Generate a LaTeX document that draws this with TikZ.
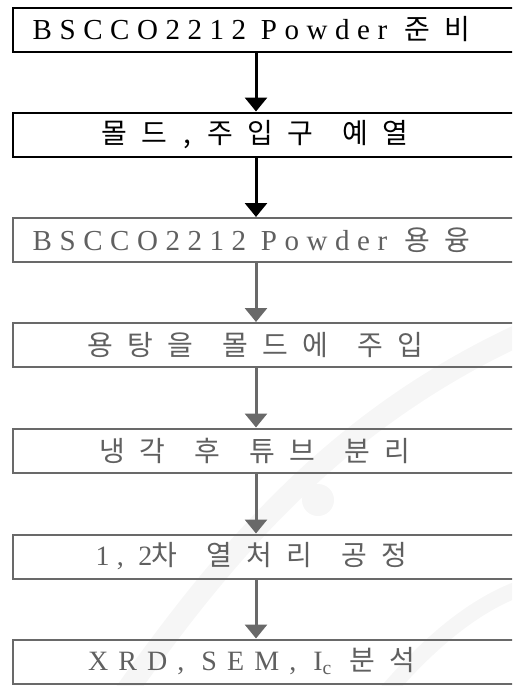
\documentclass[tikz,border=0pt]{standalone}
\usepackage{fontspec}
\setmainfont{Liberation Serif}[LetterSpace=26]
\newfontfamily\kr{Noto Sans CJK KR}
\newlength{\kstep}\setlength{\kstep}{40pt}
\makeatletter
\newcommand{\KW}[1]{{\kr\fontsize{28}{30}\selectfont\@tfor\kch:=#1\do{\makebox[\kstep][c]{\kch}}}}
\makeatother
\newcommand{\W}{\hspace{15pt}}
\usetikzlibrary{arrows.meta}
\definecolor{txtgray}{RGB}{96,96,96}
\definecolor{linegray}{RGB}{105,105,105}
\definecolor{wm}{RGB}{246,246,246}
\begin{document}
\begin{tikzpicture}[x=1pt,y=-1pt,
  stepbox/.style={line width=2pt, minimum width=507pt, minimum height=44pt,
    inner sep=0pt, font=\fontsize{29}{31}\selectfont,
    execute at end node={\hspace{23pt}}},
  blackbox/.style={stepbox, draw=black, text=black},
  graybox/.style={stepbox, draw=linegray, text=txtgray},
  flow/.style={line width=3pt, -{Triangle[width=22pt,length=14pt]}},
]
\useasboundingbox (0,0) rectangle (512,686);
\clip (0,0) rectangle (512,686);
% faint watermark
\draw[wm, line width=22pt, line cap=round] (120,700) .. controls (220,560) and (330,420) .. (530,330);
\draw[wm, line width=16pt] (380,700) .. controls (430,640) and (480,600) .. (530,585);
\fill[wm] (318,500) circle (16pt);

\node[blackbox] (b1) at (266.5,29.5) {BSCCO2212 Powder\hspace{10pt}\KW{준비}};
\node[blackbox] (b2) at (266.5,134.5) {\KW{몰드}\makebox[26pt]{\kr\fontsize{28}{30}\selectfont ,}\KW{주입구}\W\KW{예열}};
\node[graybox] (b3) at (266.5,240) {BSCCO2212 Powder\hspace{10pt}\KW{용융}};
\node[graybox] (b4) at (266.5,345) {\KW{용탕을}\W\KW{몰드에}\W\KW{주입}};
\node[graybox] (b5) at (266.5,450.5) {\KW{냉각}\W\KW{후}\W\KW{튜브}\W\KW{분리}};
\node[graybox] (b6) at (266.5,556.5) {\fontsize{28}{30}\selectfont 1, 2\hspace{-8pt}\KW{차}\W\KW{열처리}\W\KW{공정}};
\node[graybox] (b7) at (266.5,661.5) {\fontsize{28}{30}\selectfont\addfontfeature{LetterSpace=36}XRD, SEM, I\textsubscript{c}\hspace{10pt}\KW{분석}};

\draw[flow, black] (b1.south -| 256,0) -- (b2.north -| 256,0);
\draw[flow, black] (b2.south -| 256,0) -- (b3.north -| 256,0);
\draw[flow, linegray] (b3.south -| 256,0) -- (b4.north -| 256,0);
\draw[flow, linegray] (b4.south -| 256,0) -- (b5.north -| 256,0);
\draw[flow, linegray] (b5.south -| 256,0) -- (b6.north -| 256,0);
\draw[flow, linegray] (b6.south -| 256,0) -- (b7.north -| 256,0);
\end{tikzpicture}
\end{document}
